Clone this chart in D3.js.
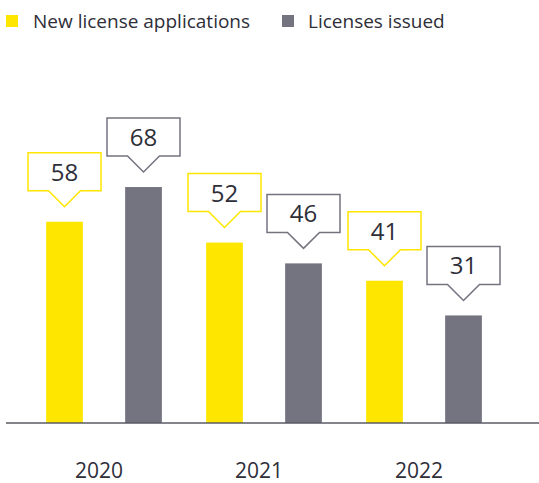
<!DOCTYPE html>
<html>
<head>
<meta charset="utf-8">
<script src="https://cdn.jsdelivr.net/npm/d3@7"></script>
<style>
  body { margin: 0; background: #fff; }
  text { font-family: "Open Sans", sans-serif; fill: #2e2e38; }
</style>
</head>
<body>
<div id="chart"></div>
<script>
// data
var years = ["2020", "2021", "2022"];
var seriesNames = ["New license applications", "Licenses issued"];
var applications = [58, 52, 41];
var issued = [68, 46, 31];

var width = 539,
  height = 483;

var colors = { "New license applications": "#ffe600", "Licenses issued": "#747480" };

var svg = d3.select("#chart").append("svg")
  .attr("width", width)
  .attr("height", height);

// scales
var x0 = d3.scaleBand()
  .domain(years)
  .range([24, 504]);

var x1 = d3.scaleBand()
  .domain(seriesNames)
  .range([0, x0.bandwidth()])
  .paddingInner(0.535)
  .paddingOuter(0.28);

var y = d3.scaleLinear()
  .domain([0, 100])
  .range([423, 76]);

// flatten into rows for drawing
var rows = [];
years.forEach(function(yr, i) {
  rows.push({ year: yr, series: seriesNames[0], value: applications[i] });
  rows.push({ year: yr, series: seriesNames[1], value: issued[i] });
});

// bars
svg.append("g")
  .selectAll("rect")
  .data(rows)
  .enter()
  .append("rect")
  .attr("x", function(d) { return x0(d.year) + x1(d.series); })
  .attr("y", function(d) { return y(d.value); })
  .attr("width", x1.bandwidth())
  .attr("height", function(d) { return y(0) - y(d.value); })
  .attr("fill", function(d) { return colors[d.series]; });

// baseline
svg.append("line")
  .attr("x1", 6).attr("x2", width)
  .attr("y1", y(0)).attr("y2", y(0))
  .attr("stroke", "#5a5a64")
  .attr("stroke-width", 1.5);

// callouts
var boxW = 73, boxH = 38, tipH = 16, tipHalf = 16, gap = 15;
var callouts = svg.append("g")
  .selectAll("g")
  .data(rows)
  .enter()
  .append("g")
  .attr("transform", function(d) {
    var cx = x0(d.year) + x1(d.series) + x1.bandwidth() / 2;
    return "translate(" + cx + "," + (y(d.value) - gap) + ")";
  });

callouts.append("path")
  .attr("d", function() {
    var bb = -tipH, bt = bb - boxH, hw = boxW / 2;
    return "M" + (-hw) + "," + bt + "H" + hw + "V" + bb + "H" + tipHalf +
      "L0,0L" + (-tipHalf) + "," + bb + "H" + (-hw) + "Z";
  })
  .attr("fill", "#fff")
  .attr("stroke", function(d) { return colors[d.series]; })
  .attr("stroke-width", 1.5);

callouts.append("text")
  .attr("x", 0)
  .attr("y", -tipH - boxH / 2 + 9)
  .attr("text-anchor", "middle")
  .style("font-size", "24px")
  .text(function(d) { return d.value; });

// year labels
svg.append("g")
  .selectAll("text")
  .data(years)
  .enter()
  .append("text")
  .attr("x", function(d) { return x0(d) + x0.bandwidth() / 2 - 5; })
  .attr("y", 478)
  .attr("text-anchor", "middle")
  .style("font-size", "21px")
  .text(function(d) { return d; });

// legend
var legendX = [6, 282];
var legend = svg.append("g")
  .selectAll("g")
  .data(seriesNames)
  .enter()
  .append("g")
  .attr("transform", function(d, i) { return "translate(" + legendX[i] + ",15)"; });

legend.append("rect")
  .attr("width", 12)
  .attr("height", 12)
  .attr("fill", function(d) { return colors[d]; });

legend.append("text")
  .attr("x", function(d, i) { return i === 0 ? 27 : 26; })
  .attr("y", 13)
  .style("font-size", "19px")
  .text(function(d) { return d; });
</script>
</body>
</html>
